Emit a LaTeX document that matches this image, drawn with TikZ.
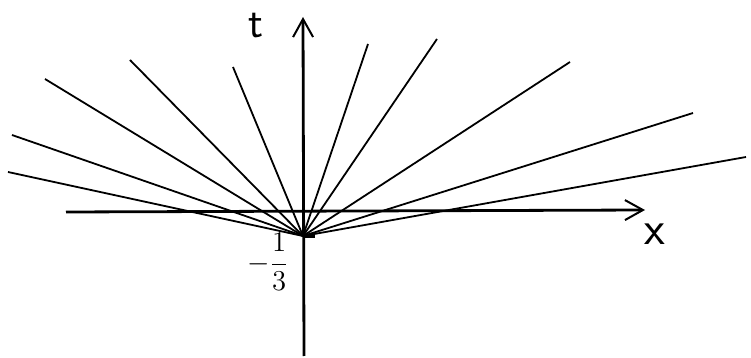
\documentclass[tikz,border=0pt]{standalone}
\usetikzlibrary{arrows.meta}
\begin{document}
\begin{tikzpicture}[x=0.5pt,y=-0.5pt,
  axis/.style={line width=1.4pt,-{Straight Barb[length=9pt,width=10pt,line width=1pt]}},
  ray/.style={line width=0.9pt},
  lab/.style={inner sep=0pt}]
\useasboundingbox (0,0) rectangle (751,358);
% axes
\coordinate (xl) at (66,212);
\coordinate (xr) at (645,210);
\coordinate (tb) at (304,356);
\coordinate (tt) at (303,17);
\draw[axis] (xl) -- (xr);
\draw[axis] (tb) -- (tt);
% rays
\coordinate (o) at (303,236);
\coordinate (r1) at (8,172);
\coordinate (r2) at (12,135);
\coordinate (r3) at (45,79);
\coordinate (r4) at (130,60);
\coordinate (r5) at (233,67);
\coordinate (r6) at (368,44);
\coordinate (r7) at (437,39);
\coordinate (r8) at (570,62);
\coordinate (r9) at (693,113);
\coordinate (r10) at (746,157);
\foreach \i in {1,...,10} \draw[ray] (o) -- (r\i);
\draw[line width=2pt] (o) -- ++(12,0);
% labels
\node[lab,font=\sffamily\fontsize{22}{22}\selectfont] (tl) at (256,26) {t};
\node[lab,font=\sffamily\fontsize{24}{24}\selectfont] (xlab) at (655,234) {x};
\node[lab,font=\fontsize{14}{17}\selectfont] (m) at (268,262) {$-\displaystyle\frac{1}{3}$};
\end{tikzpicture}
\end{document}
